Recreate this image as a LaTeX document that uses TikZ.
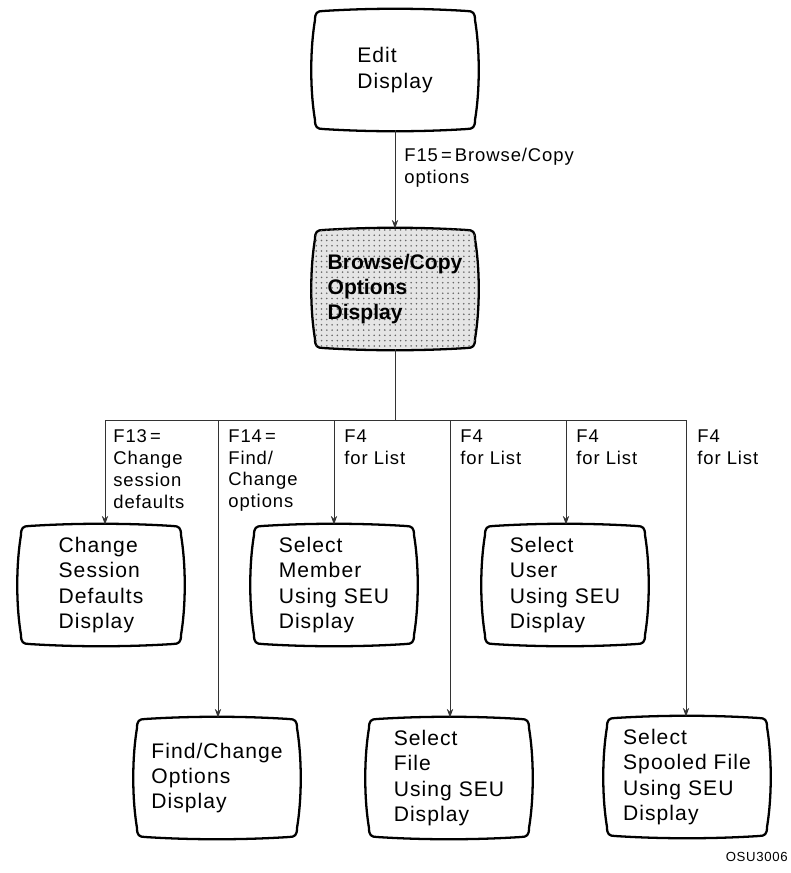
\documentclass[tikz,border=0pt]{standalone}
\usepackage{fontspec}
\setmainfont{Liberation Sans}[LetterSpace=5]
\usetikzlibrary{arrows.meta,backgrounds,patterns}
\newcommand{\screenfont}{\fontsize{12}{14.4}\selectfont}
\newcommand{\keyfont}{\fontsize{10.5}{12.5}\selectfont}
\newcommand{\screenpath}{(-72,-59) .. controls (-25,-62) and (25,-62) .. (72,-59)
  .. controls (78,-59) and (80,-57) .. (80,-50)
  .. controls (85,-20) and (85,20) .. (80,50)
  .. controls (80,57) and (78,59) .. (72,59)
  .. controls (25,62) and (-25,62) .. (-72,59)
  .. controls (-78,59) and (-80,57) .. (-80,50)
  .. controls (-85,20) and (-85,-20) .. (-80,-50)
  .. controls (-80,-57) and (-78,-59) .. (-72,-59) -- cycle}

\begin{document}
\begin{tikzpicture}[x=0.02cm, y=-0.02cm,
  screen/.style={minimum width=3.3cm, minimum height=2.4cm, inner sep=0pt, align=left, font=\screenfont},
  keytext/.style={anchor=north west, inner sep=0pt, align=left, font=\keyfont},
  link/.style={draw=black!80, line width=0.5pt},
  tip/.style={-{Stealth[length=5pt, width=3.6pt]}},
  outline/.style={line width=1.3pt, line join=round},
  screenplain/.style={fill=white},
  screendots/.style={fill=black!10, postaction={pattern=dots, pattern color=black!60}}]
\useasboundingbox (0,0) rectangle (791,873);

\node[screen] (edit) at (395,70) {Edit\\Display};
\node[screen, font=\screenfont\bfseries\addfontfeature{LetterSpace=0}] (browse) at (395,289) {Browse/Copy\\Options\\Display};
\node[screen] (defaults) at (101,585) {Change\\Session\\Defaults\\Display};
\node[screen] (member) at (334,585) {Select\\Member\\Using SEU\\Display};
\node[screen] (user) at (565,585) {Select\\User\\Using SEU\\Display};
\node[screen] (find) at (217,778) {Find/Change\\Options\\Display};
\node[screen] (file) at (449,778) {Select\\File\\Using SEU\\Display};
\node[screen] (spool) at (687,777) {Select\\Spooled File\\Using SEU\\Display};

\begin{scope}[on background layer]
\foreach \s/\f in {edit/screenplain, browse/screendots, defaults/screenplain, member/screenplain,
    user/screenplain, find/screenplain, file/screenplain, spool/screenplain}
  \draw[outline, \f, shift={(\s.center)}] \screenpath;
\end{scope}

\coordinate (bus) at (395,420);
\coordinate (d1) at (105,420);
\coordinate (d2) at (218,420);
\coordinate (d3) at (334,420);
\coordinate (d4) at (450,420);
\coordinate (d5) at (566,420);
\coordinate (d6) at (686,420);

\draw[link, tip] (edit) -- (browse);
\draw[link] (browse) -- (bus);
\draw[link] (d1) -- (d6);
\foreach \d/\s in {d1/defaults, d2/find, d3/member, d4/file, d5/user, d6/spool}
  \draw[link, tip] (\d) -- (\d |- \s.north);

\node[keytext] (f15) at (404,148) {F15\,=\,Browse/Copy\\options};
\node[keytext] (f13) at (113,429) {F13\,=\\Change\\session\\defaults};
\node[keytext] (f14) at (228,429) {F14\,=\\Find/\\Change\\options};
\node[keytext] (f4a) at (344,429) {F4\\for List};
\node[keytext] (f4b) at (460,429) {F4\\for List};
\node[keytext] (f4c) at (576,429) {F4\\for List};
\node[keytext] (f4d) at (697,429) {F4\\for List};

\node[anchor=north east, inner sep=0pt, font=\fontsize{7.5}{9}\selectfont] (figid) at (788,852) {OSU3006};
\end{tikzpicture}
\end{document}
